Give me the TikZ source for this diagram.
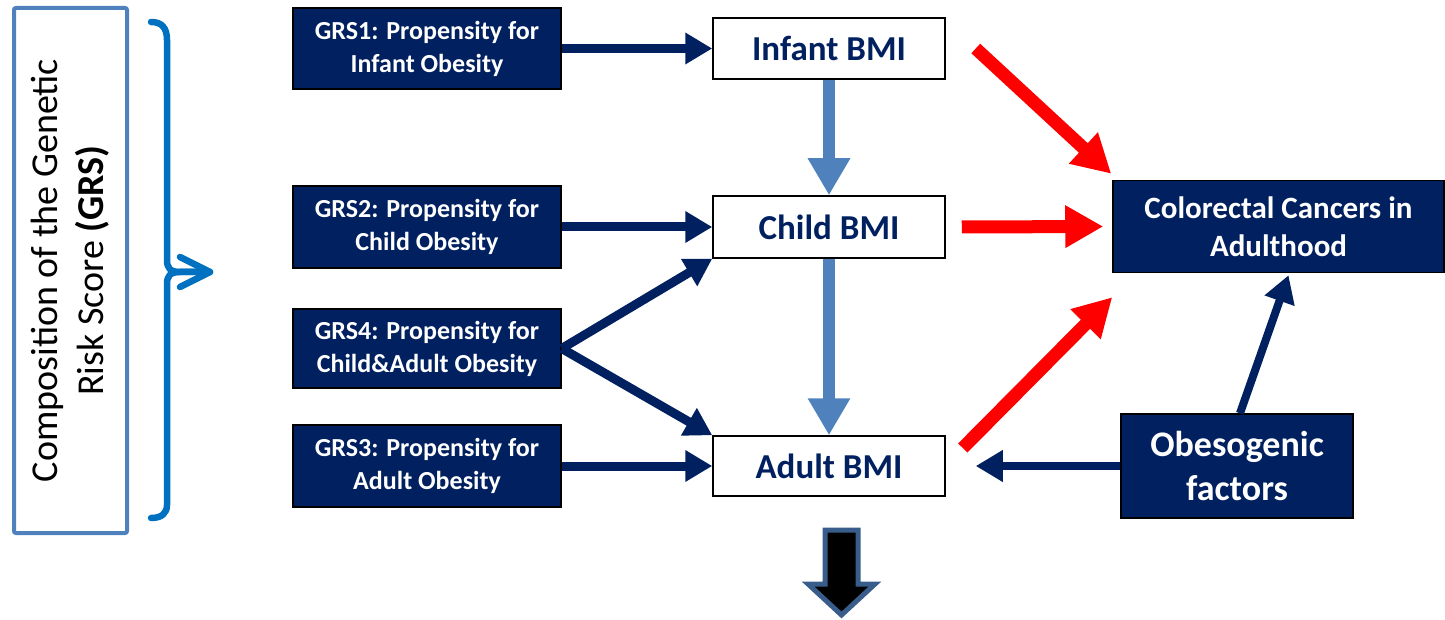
\documentclass[tikz,border=0pt]{standalone}
\usepackage{fontspec}
\setmainfont{Carlito}
\usetikzlibrary{arrows.meta,calc}
\definecolor{navy}{RGB}{0,32,96}
\definecolor{lblue}{RGB}{79,129,189}
\definecolor{bracec}{RGB}{0,112,192}
\definecolor{redc}{RGB}{255,0,0}
\definecolor{bordc}{RGB}{56,93,138}
\begin{document}
\begin{tikzpicture}[x=1pt,y=-1pt,
 grs/.style={draw=black, line width=1.5pt, fill=navy, text=white, font=\fontsize{26}{33}\selectfont\bfseries, align=center, minimum width=268pt, minimum height=81pt, inner sep=0pt},
 bmi/.style={draw=black, line width=1.5pt, fill=white, text=navy, font=\fontsize{35}{42}\selectfont\bfseries, minimum width=232pt, minimum height=61pt, inner sep=0pt},
 navyarr/.style={draw=navy, line width=9pt, -{Triangle[length=27pt,width=30pt]}},
 bluearr/.style={draw=lblue, line width=12pt, -{Triangle[length=37pt,width=40pt]}},
 redarr/.style={draw=redc, line width=13pt, -{Triangle[length=38pt,width=40pt]}},
 bracestyle/.style={draw=bracec, line width=6.5pt, line cap=round, line join=round},
]
\useasboundingbox (0,0) rectangle (1445,620);
% left box
\node[draw=lblue, line width=4pt, rounded corners=2pt, minimum width=113pt, minimum height=525pt, inner sep=0pt] (comp) at (70.5,270.5) {};
\node[rotate=90, align=center, font=\fontsize{38}{46}\selectfont] (comptext) at (comp.center) {Composition of the Genetic\\Risk Score \textbf{(GRS)}};
% brace with arrow
\coordinate (chevA) at (180,257);
\coordinate (chevT) at (210,272);
\coordinate (chevB) at (180,287);
\coordinate (braceM) at (180,272);
\draw[bracestyle] (151,22) .. controls (162,22) and (167,28) .. (167,40) -- (167,260) .. controls (167,268) and (170,272) .. (braceM) -- (chevT);
\draw[bracestyle] (chevT) -- (braceM) .. controls (170,272) and (167,276) .. (167,284) -- (167,505) .. controls (167,513) and (162,518) .. (151,518);
\draw[bracestyle] (chevA) -- (chevT) -- (chevB);
% GRS boxes
\node[grs] (g1) at (427,48.5) {GRS1: Propensity for\\Infant Obesity};
\node[grs, minimum height=82pt] (g2) at (427,227) {GRS2: Propensity for\\Child Obesity};
\node[grs, minimum height=79pt] (g4) at (427,348.5) {GRS4: Propensity for\\Child\&Adult Obesity};
\node[grs, minimum height=82pt] (g3) at (427,466) {GRS3: Propensity for\\Adult Obesity};
% BMI boxes
\node[bmi] (inf) at (829,48.5) {Infant BMI};
\node[bmi, minimum height=62pt] (chi) at (829,227) {Child BMI};
\node[bmi, minimum height=60pt] (adu) at (829,466) {Adult BMI};
% outcome boxes
\node[draw=black, line width=1.5pt, fill=navy, text=white, font=\fontsize{31}{38}\selectfont\bfseries, align=center, minimum width=331pt, minimum height=92pt, inner sep=0pt] (crc) at (1278.5,226.5) {Colorectal Cancers in\\Adulthood};
\node[draw=black, line width=1.5pt, fill=navy, text=white, font=\fontsize{36}{44}\selectfont\bfseries, align=center, minimum width=232pt, minimum height=104pt, inner sep=0pt] (obe) at (1237,466) {Obesogenic\\factors};
% navy arrows
\draw[navyarr] (g1.east) -- (inf.west);
\draw[navyarr] (g2.east) -- (chi.west);
\draw[navyarr] (g3.east) -- (adu.west);
\draw[navyarr] (g4.east) -- (chi.south west);
\draw[navyarr] (g4.east) -- (adu.north west);
% blue arrows
\draw[bluearr] (inf.south) -- (chi.north);
\draw[bluearr] (chi.south) -- (adu.north);
% red arrows
\coordinate (r1s) at ($(inf.east)+(30,0)$);
\coordinate (r1e) at ($(crc.north west)+(-1,-6)$);
\coordinate (r2s) at ($(chi.east)+(16,0)$);
\coordinate (r2e) at ($(crc.west)+(-9,0)$);
\coordinate (r3s) at ($(adu.east)+(17,-18)$);
\coordinate (r3e) at ($(crc.south west)+(0,24)$);
\draw[redarr] (r1s) -- (r1e);
\draw[redarr] (r2s) -- (r2e);
\draw[redarr] (r3s) -- (r3e);
% obesogenic arrows
\coordinate (o1e) at ($(adu.east)+(30,0)$);
\coordinate (o2s) at ($(obe.north)+(3,0)$);
\coordinate (o2e) at ($(crc.south)+(10,2)$);
\draw[navyarr, line width=8pt] (obe.west) -- (o1e);
\draw[navyarr, line width=8pt] (o2s) -- (o2e);
% bottom block arrow
\draw[fill=black, draw=bordc, line width=5pt, line join=miter] (825,530) -- (858,530) -- (858,584) -- (875,584) -- (841.5,615) -- (808,584) -- (825,584) -- cycle;
\end{tikzpicture}
\end{document}
